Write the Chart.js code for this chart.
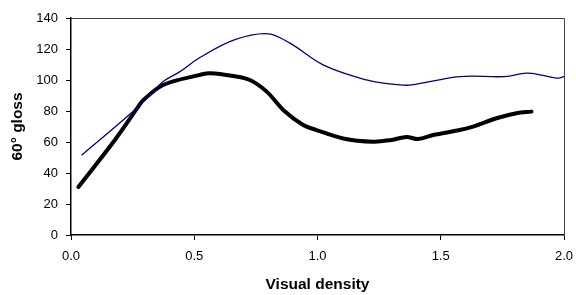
<!DOCTYPE html>
<html>
<head>
<meta charset="utf-8">
<script src="https://cdn.jsdelivr.net/npm/chart.js@4/dist/chart.umd.min.js"></script>
<style>
    html, body { margin: 0; padding: 0; background: #fff; }
    #wrap { width: 576px; height: 295px; }
</style>
</head>
<body>
<div id="wrap"><canvas id="glossChart" width="576" height="295"></canvas></div>
<script>
// thin navy curve
const blueDensity = [0.043, 0.273, 0.374, 0.442, 0.523, 0.665, 0.80, 0.888, 1.023, 1.172, 1.253, 1.334, 1.381, 1.577, 1.76, 1.848, 1.915, 1.97, 2.0];
const blueGloss = [51.5, 82.8, 99, 105.4, 114.5, 126, 129.8, 123.8, 109.8, 101.2, 98.3, 96.8, 96.8, 102.2, 102.2, 104.4, 103, 101.2, 102.2];

// thick black curve
const blackDensity = [0.030, 0.178, 0.273, 0.293, 0.374, 0.523, 0.564, 0.658, 0.726, 0.794, 0.861, 0.942, 0.996, 1.104, 1.226, 1.30, 1.361, 1.408, 1.469, 1.577, 1.631, 1.726, 1.807, 1.868];
const blackGloss = [31, 61.3, 82.8, 87, 96.8, 103.3, 104.4, 102.6, 100, 92.5, 80.7, 71, 67.7, 62.3, 60.2, 61.3, 63.3, 61.9, 64.5, 67.7, 69.9, 75.3, 78.5, 79.6];

const xTicks = [0, 0.5, 1.0, 1.5, 2.0];
const yTicks = [0, 20, 40, 60, 80, 100, 120, 140];

function toPoints(xs, ys) {
    return xs.map(function (x, i) { return { x: x, y: ys[i] }; });
}

// top and right frame lines of the plot box
const frameBox = {
    id: 'frameBox',
    afterDraw: function (chart) {
        const a = chart.chartArea;
        const ctx = chart.ctx;
        ctx.save();
        ctx.strokeStyle = '#404040';
        ctx.lineWidth = 1;
        ctx.beginPath();
        ctx.moveTo(a.left, a.top + 0.5);
        ctx.lineTo(a.right + 0.5, a.top + 0.5);
        ctx.lineTo(a.right + 0.5, a.bottom);
        ctx.stroke();
        ctx.restore();
    }
};

const tickFont = { family: 'Liberation Sans, Arial, sans-serif', size: 13 };
const titleFont = { family: 'Liberation Sans, Arial, sans-serif', size: 15.5, weight: 'bold' };

new Chart(document.getElementById('glossChart').getContext('2d'), {
    type: 'scatter',
    data: {
        datasets: [{
            data: toPoints(blueDensity, blueGloss),
            showLine: true,
            borderColor: '#000080',
            borderWidth: 1.3,
            pointRadius: 0,
            tension: 0.35
        }, {
            data: toPoints(blackDensity, blackGloss),
            showLine: true,
            borderColor: '#000000',
            borderWidth: 4,
            borderCapStyle: 'round',
            pointRadius: 0,
            tension: 0.35
        }]
    },
    options: {
        responsive: false,
        animation: false,
        layout: { padding: { top: 18, right: 12, left: 0, bottom: 0 } },
        plugins: { legend: { display: false }, tooltip: { enabled: false } },
        scales: {
            x: {
                type: 'linear',
                min: 0,
                max: 2,
                afterBuildTicks: function (scale) {
                    scale.ticks = xTicks.map(function (v) { return { value: v }; });
                },
                afterFit: function (scale) {
                    scale.height = 60;
                    scale.paddingLeft = 0;
                    scale.paddingRight = 0;
                },
                ticks: {
                    color: '#000',
                    font: tickFont,
                    padding: 9,
                    maxRotation: 0,
                    callback: function (v) { return v.toFixed(1); }
                },
                grid: { drawOnChartArea: false, tickLength: 5, color: '#000' },
                border: { color: '#000', width: 1.5 },
                title: { display: true, text: 'Visual density', color: '#000', font: titleFont, padding: { top: 0, bottom: 1 } }
            },
            y: {
                min: 0,
                max: 140,
                afterBuildTicks: function (scale) {
                    scale.ticks = yTicks.map(function (v) { return { value: v }; });
                },
                afterFit: function (scale) { scale.width = 71; },
                ticks: { color: '#000', font: tickFont, padding: 8 },
                grid: { drawOnChartArea: false, tickLength: 5, color: '#000' },
                border: { color: '#000', width: 1.5 },
                title: { display: true, text: '60° gloss', color: '#000', font: titleFont, padding: { top: 8, bottom: 0 } }
            }
        }
    },
    plugins: [frameBox]
});
</script>
</body>
</html>
